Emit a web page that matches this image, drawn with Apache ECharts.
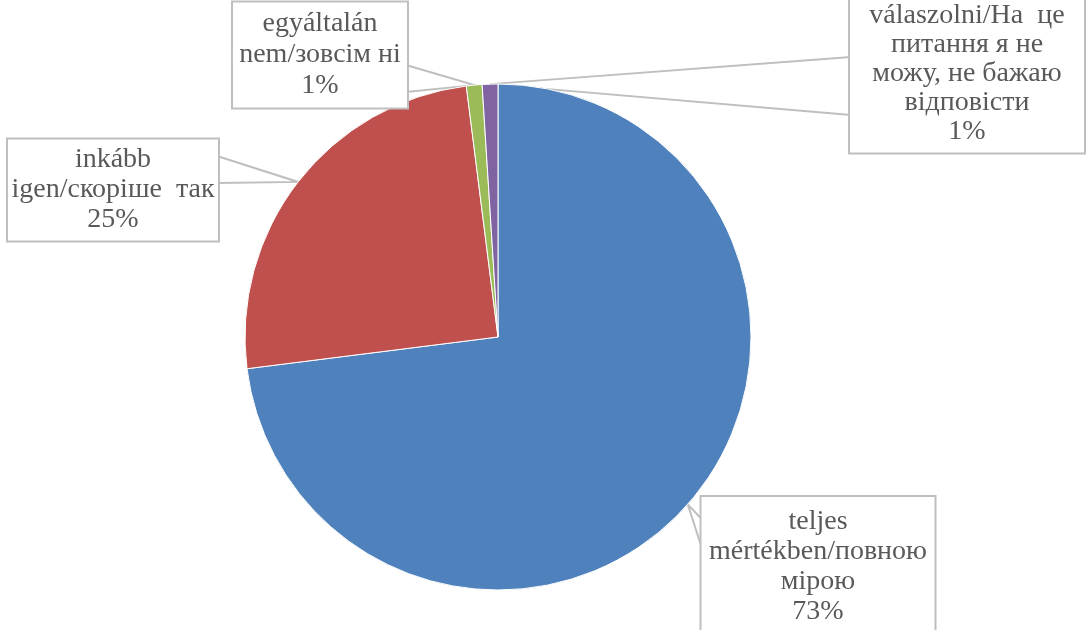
<!DOCTYPE html>
<html><head><meta charset="utf-8">
<script src="https://cdn.jsdelivr.net/npm/echarts@6/dist/echarts.min.js"></script>
<style>html,body{margin:0;padding:0;background:#fff}#c{width:1086px;height:630px}</style>
</head><body><div id="c"></div>
<script>
const categories = [
  'teljes\nmértékben/повною\nмірою',
  'inkább\nigen/скоріше  так',
  'egyáltalán\nnem/зовсім ні',
  'nem tudok/nem\nakarok erre a\nkérdésre\nválaszolni/На  це\nпитання я не\nможу, не бажаю\nвідповісти'
];
const values = [73, 25, 1, 1];
const colors = ['#4F81BD', '#C0504D', '#9BBB59', '#8064A2'];

// label box placement and callout wedge base (layout only)
const boxes = [
  {cx: 818, cy: 567, w: 233, pad: [10, 2, 10, 2], side: 'left',  y1: 520, y2: 550},
  {cx: 113, cy: 190, w: 210, pad: [5, 2, 6, 2],   side: 'right', y1: 156, y2: 183},
  {cx: 320, cy: 55,  w: 174, pad: [6, 2, 6, 2],   side: 'right', y1: 65,  y2: 92},
  {cx: 967, cy: 30,  w: 234, pad: [6, 2, 7, 2],   side: 'left',  y1: 57,  y2: 115}
];
const lineHeights = [30, 30, 31, 29];
const FONT = 'Liberation Serif';

const chart = echarts.init(document.getElementById('c'), null, {renderer: 'canvas'});
chart.setOption({
  animation: false,
  backgroundColor: '#fff',
  series: [{
    type: 'pie',
    center: [498, 337],
    radius: 253,
    startAngle: 90,
    clockwise: true,
    avoidLabelOverlap: false,
    itemStyle: {borderColor: '#fff', borderWidth: 1},
    data: categories.map((name, i) => ({
      name: name,
      value: values[i],
      itemStyle: {color: colors[i]},
      label: {
        width: boxes[i].w - boxes[i].pad[1] - boxes[i].pad[3],
        padding: boxes[i].pad,
        lineHeight: lineHeights[i]
      }
    })),
    label: {
      show: true,
      position: 'outside',
      formatter: p => p.name + '\n' + p.value + '%',
      fontFamily: FONT,
      fontSize: 28,
      color: '#595959',
      align: 'center',
      overflow: 'none',
      backgroundColor: '#fff',
      borderColor: '#BFBFBF',
      borderWidth: 2
    },
    labelLine: {
      show: true,
      smooth: false,
      length: 10,
      length2: 10,
      lineStyle: {color: '#BFBFBF', width: 2}
    },
    labelLayout: function (params) {
      const b = boxes[params.dataIndex];
      const out = {x: b.cx, y: b.cy, align: 'center', verticalAlign: 'middle'};
      const pts = params.labelLinePoints;
      if (pts && pts.length) {
        const anchor = pts[0];
        const ex = b.side === 'left' ? b.cx - b.w / 2 + 1 : b.cx + b.w / 2 - 1;
        out.labelLinePoints = [[ex, b.y1], [anchor[0], anchor[1]], [ex, b.y2]];
      }
      return out;
    }
  }]
});
</script></body></html>
